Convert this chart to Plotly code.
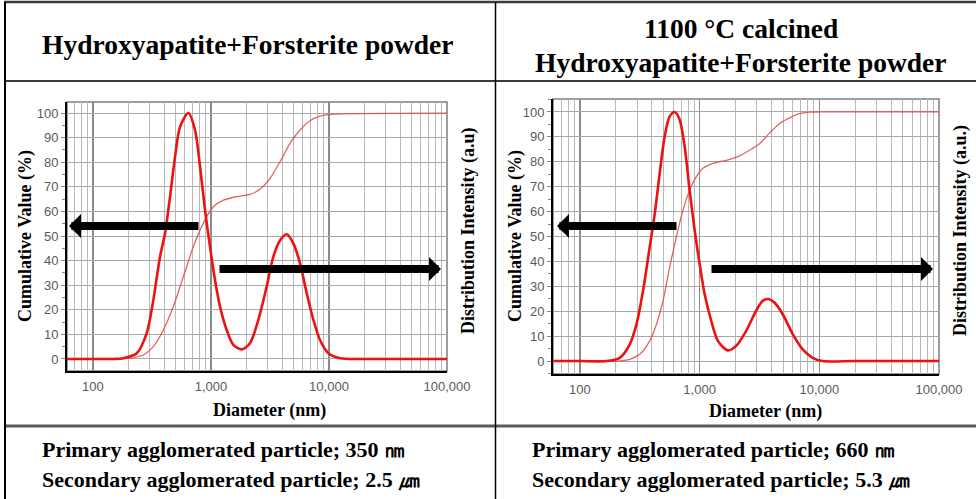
import plotly.graph_objects as go

# ---------------- data ----------------
# Left chart: Hydroxyapatite+Forsterite powder
dist1_x = [60, 100, 150, 181, 235, 285, 325, 370, 408, 450, 496, 547, 643, 732, 808, 890, 981,
           1082, 1193, 1359, 1548, 1820, 2142, 2520, 2965, 3378, 3846, 4385, 4988, 5684, 6475,
           7376, 8395, 9880, 12400, 20000, 100000]
dist1_y = [0, 0, 0, 0.3, 2.3, 10.4, 24, 41.6, 51.1, 66, 82.2, 94.4, 100, 93.1, 78.2, 60.6, 45.7,
           32.1, 21.3, 11.8, 5.7, 3.9, 6.4, 15.9, 29.4, 41.6, 48.2, 50.7, 47, 38.9, 26.7,
           15.9, 7.7, 2.3, 0.3, 0, 0]
cum1_x = [60, 139, 206, 267, 325, 395, 480, 547, 622, 709, 808, 920, 1047, 1273, 1651, 2142,
          2604, 3165, 3846, 4677, 5684, 6905, 8395, 10200, 100000]
cum1_y = [0, 0, 0.3, 1.6, 5, 11.8, 21.3, 29.4, 37.5, 45.7, 52.4, 57.9, 61.9, 64.6, 66, 66.9,
          69, 73.4, 80.2, 87.7, 93.1, 96.9, 98.8, 99.5, 100]

# Right chart: 1100 °C calcined powder
dist2_x = [60, 100, 167, 215, 261, 297, 337, 383, 422, 464, 511, 562, 619, 681, 750, 825, 909,
           1000, 1101, 1251, 1421, 1722, 2021, 2448, 2966, 3370, 3758, 4217, 4946, 5995, 7263,
           8796, 10660, 20000, 100000]
dist2_y = [0, 0, 0, 1.3, 6.7, 14.8, 28.3, 45.8, 59.2, 75.4, 90.2, 98.2, 100, 96.9, 86.1, 68.6,
           52.5, 39, 26.9, 16.1, 8.1, 4.3, 6.1, 12.1, 20.2, 24.2, 24.9, 23.5, 18.8, 10.8, 4.7,
           1.3, 0, 0, 0]
cum2_x = [60, 202, 261, 316, 383, 436, 495, 562, 639, 726, 825, 938, 1066, 1292, 1668, 2154,
          3162, 3831, 4642, 5623, 6813, 8254, 10000, 100000]
cum2_y = [0, 0, 0.7, 2.7, 8.1, 14.8, 24.2, 37.7, 49.8, 60.6, 68.6, 74, 77.4, 79.4, 80.6, 82.4,
          87.2, 91.5, 95.3, 97.6, 99.3, 99.9, 100, 100]

x_tick_vals = [100, 1000, 10000, 100000]
x_tick_text = ["100", "1,000", "10,000", "100,000"]
y_tick_vals = [0, 10, 20, 30, 40, 50, 60, 70, 80, 90, 100]

header_left = "Hydroxyapatite+Forsterite powder"
header_right_1 = "1100 °C calcined"
header_right_2 = "Hydroxyapatite+Forsterite powder"
foot_left = ["Primary agglomerated particle; 350 ㎚", "Secondary agglomerated particle; 2.5 ㎛"]
foot_right = ["Primary agglomerated particle; 660 ㎚", "Secondary agglomerated particle; 5.3 ㎛"]

# ---------------- figure ----------------
W, H = 976, 499
def px(xp):
    return xp / W
def py(yp):
    return 1 - yp / H

SERIF = "Liberation Serif"
SANS = "Liberation Sans"
RED = "#ee1111"
CUMRED = "rgba(226,70,70,0.85)"

fig = go.Figure()
fig.add_trace(go.Scatter(x=cum1_x, y=cum1_y, mode="lines", xaxis="x", yaxis="y",
                         line=dict(color=CUMRED, width=1.3, shape="spline", smoothing=0.7),
                         showlegend=False, hoverinfo="skip"))
fig.add_trace(go.Scatter(x=dist1_x, y=dist1_y, mode="lines", xaxis="x", yaxis="y",
                         line=dict(color=RED, width=2.6, shape="spline", smoothing=0.8),
                         showlegend=False, hoverinfo="skip"))
fig.add_trace(go.Scatter(x=cum2_x, y=cum2_y, mode="lines", xaxis="x2", yaxis="y2",
                         line=dict(color=CUMRED, width=1.3, shape="spline", smoothing=0.7),
                         showlegend=False, hoverinfo="skip"))
fig.add_trace(go.Scatter(x=dist2_x, y=dist2_y, mode="lines", xaxis="x2", yaxis="y2",
                         line=dict(color=RED, width=2.6, shape="spline", smoothing=0.8),
                         showlegend=False, hoverinfo="skip"))

minor_vals = [m * 10 ** e for e in range(1, 5) for m in range(2, 10)]

def xaxis_cfg(domain, rng, anchor):
    return dict(type="log", range=rng, domain=domain, anchor=anchor, automargin=False,
                showline=True, linecolor="black", linewidth=2,
                tickmode="array", tickvals=x_tick_vals, ticktext=x_tick_text,
                ticks="", ticklabelstandoff=2,
                tickfont=dict(family=SANS, size=13, color="#5a5a5a"),
                showgrid=True, gridcolor="#8a8a8a", gridwidth=1.2,
                minor=dict(tickmode="array", tickvals=minor_vals, showgrid=True,
                           gridcolor="#b8b8b8", gridwidth=1, ticks=""),
                zeroline=False, fixedrange=True)

def yaxis_cfg(domain, rng, anchor):
    return dict(range=rng, domain=domain, anchor=anchor, automargin=False,
                showline=True, linecolor="black", linewidth=2,
                tickmode="array", tickvals=y_tick_vals,
                ticks="outside", ticklen=4, tickcolor="#888", tickwidth=1,
                tickfont=dict(family=SANS, size=13, color="#5a5a5a"),
                showgrid=True, gridcolor="#a8a8a8", gridwidth=1,
                minor=dict(dtick=5, tick0=0, ticks="outside", ticklen=3, tickcolor="#888",
                           showgrid=False),
                zeroline=False, fixedrange=True)

fig.update_layout(
    width=W, height=H, autosize=False, margin=dict(l=0, r=0, t=0, b=0, autoexpand=False),
    paper_bgcolor="white", plot_bgcolor="white",
    font=dict(family=SERIF, color="black"),
    xaxis=xaxis_cfg([px(67), px(447)], [1.78, 5], "y"),
    yaxis=yaxis_cfg([py(371), py(102)], [-4.9, 104.5], "x"),
    xaxis2=xaxis_cfg([px(553), px(939)], [1.775, 5], "y2"),
    yaxis2=yaxis_cfg([py(374), py(99)], [-5.2, 105.2], "x2"),
)

shapes = []
# plot frames (top/right in gray)
for xr, yr in (("x", "y"), ("x2", "y2")):
    shapes.append(dict(type="rect", xref=xr + " domain", yref=yr + " domain",
                       x0=0, x1=1, y0=0, y1=1, line=dict(color="#7d7d7d", width=1.5),
                       layer="below"))
# table lines
def hline(yp, color, width):
    shapes.append(dict(type="line", xref="paper", yref="paper", x0=px(4), x1=1,
                       y0=py(yp), y1=py(yp), line=dict(color=color, width=width)))
def vline(xp, color, width):
    shapes.append(dict(type="line", xref="paper", yref="paper", x0=px(xp), x1=px(xp),
                       y0=py(2), y1=0, line=dict(color=color, width=width)))
hline(2, "#3a3a3a", 2.5)
hline(81, "#3a3a3a", 2)
hline(426, "#5a5a5a", 3)
vline(5, "black", 2)
vline(495.5, "black", 1.5)
fig.update_layout(shapes=shapes)

ann = []
def text(xp, yp, s, size, angle=0, xanchor="center", bold=True, family=SERIF):
    ann.append(dict(x=px(xp), y=py(yp), xref="paper", yref="paper",
                    text=("<b>%s</b>" % s) if bold else s, showarrow=False,
                    textangle=angle, xanchor=xanchor, yanchor="middle",
                    font=dict(family=family, size=size, color="black")))

# headers
text(248, 45, header_left, 27.5)
text(741, 28, header_right_1, 27.5)
text(741, 62, header_right_2, 27.5)
# footers
text(40, 449, foot_left[0], 22, xanchor="left")
text(40, 479, foot_left[1], 22, xanchor="left")
text(530, 449, foot_right[0], 22, xanchor="left")
text(530, 479, foot_right[1], 22, xanchor="left")
# axis titles
text(25, 236, "Cumulative Value (%)", 18, angle=-90)
text(468, 231, "Distribution Intensity (a.u)", 18, angle=-90)
text(269, 410, "Diameter (nm)", 18)
text(515, 236, "Cumulative Value (%)", 18, angle=-90)
text(960, 231, "Distribution Intensity (a.u.)", 18, angle=-90)
text(765, 411, "Diameter (nm)", 18)

# direction arrows (pointing to the axis each curve belongs to)
def arrow(tip_x, tail_x, yp):
    ann.append(dict(x=px(tip_x), y=py(yp), xref="paper", yref="paper",
                    ax=tail_x - tip_x, ay=0, axref="pixel", ayref="pixel",
                    text="", showarrow=True, arrowhead=1, arrowsize=0.5,
                    arrowwidth=8, arrowcolor="black", standoff=0))
arrow(69, 200, 226)
arrow(441, 218, 269)
arrow(557, 678, 226)
arrow(933, 710, 269)

fig.update_layout(annotations=ann)
fig.write_html(
    "out.html",
    config={"responsive": False, "displayModeBar": False, "staticPlot": True},
    post_script=("document.documentElement.style.margin='0';"
                 "document.body.style.margin='0';"
                 "document.documentElement.style.overflow='hidden';"
                 "document.body.style.overflow='hidden';"),
)
